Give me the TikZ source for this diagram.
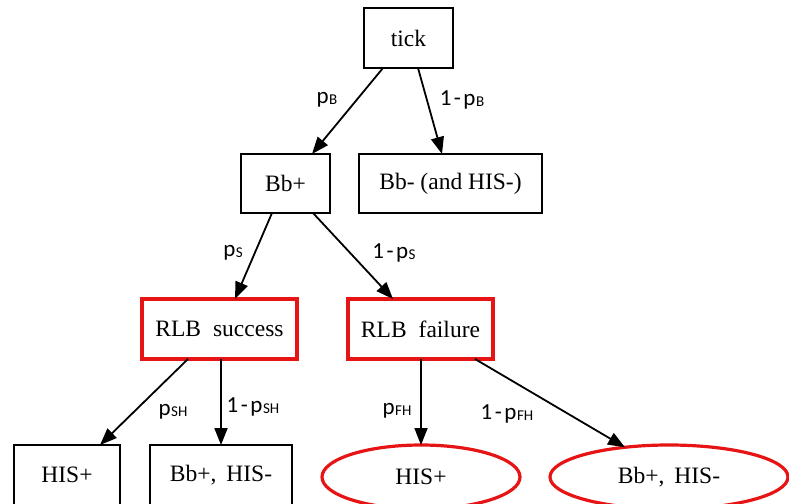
\documentclass[tikz,border=0pt]{standalone}
\usepackage{fontspec}
\setmainfont{Liberation Serif}
\newfontfamily\lblfont{Carlito}
\usetikzlibrary{arrows.meta,shapes.geometric,calc}
\definecolor{boxred}{RGB}{230,20,20}
\newcommand{\prob}[1]{p\kern0.5pt\raisebox{-1pt}{\fontsize{15}{15}\selectfont #1}}
\newcommand{\one}{1\kern2.5pt-\kern2.5pt}
\begin{document}
\begin{tikzpicture}[x=1pt,y=-1pt,
  every node/.style={inner sep=0pt,outer sep=0pt},
  blackbox/.style={draw=black,line width=1.8pt,minimum height=#1},
  blackbox/.default=60pt,
  redbox/.style={draw=boxred,line width=3.2pt,minimum height=60pt},
  redell/.style={draw=boxred,line width=3.2pt,ellipse},
  txt/.style={font=\fontsize{23.5}{25}\selectfont},
  lbl/.style={font=\lblfont\fontsize{23}{25}\selectfont},
  edge/.style={line width=1.8pt,-{Triangle[length=17pt,width=13pt]}}]
\useasboundingbox (0,0) rectangle (789,503);
\clip (0,0) rectangle (789,503);
% nodes
\node[blackbox=60pt,minimum width=89pt,txt] (tick) at (408.5,38) {tick};
\node[blackbox=59pt,minimum width=89pt,txt] (bbp) at (285.5,183.5) {Bb+};
\node[blackbox=59pt,minimum width=183pt,txt] (bbm) at (450.5,183.5) {Bb- (and HIS-)};
\node[redbox,minimum width=155pt,txt] (succ) at (219.5,329) {RLB\hspace{12pt}success};
\node[redbox,minimum width=145pt,txt] (fail) at (420.5,329) {RLB\hspace{12pt}failure};
\node[blackbox=60pt,minimum width=106pt,txt] (hisa) at (67,475) {HIS+};
\node[blackbox=60pt,minimum width=142pt,txt] (bha) at (221,475) {Bb+,\hspace{10pt}HIS-};
\node[redell,minimum width=198pt,minimum height=64pt,txt] (hisb) at (421,477) {HIS+};
\node[redell,minimum width=238pt,minimum height=64pt,txt] (bhb) at (669,477) {Bb+,\hspace{10pt}HIS-};
% connectors
\draw[edge] ([xshift=-25.5pt]tick.south) -- ([xshift=26.5pt]bbp.north);
\draw[edge] ([xshift=9.5pt]tick.south) -- ([xshift=-8.5pt]bbm.north);
\draw[edge] ([xshift=-13.5pt]bbp.south) -- ([xshift=15.5pt]succ.north);
\draw[edge] ([xshift=27.5pt]bbp.south) -- ([xshift=-27.5pt]fail.north);
\draw[edge] ([xshift=-31.5pt]succ.south) -- ([xshift=33pt]hisa.north);
\draw[edge] ([xshift=1.5pt]succ.south) -- (bha.north);
\draw[edge] ([xshift=0.5pt]fail.south) -- (hisb.north);
\draw[edge] ([xshift=54.5pt]fail.south) -- ($(bhb.center)+(-44,-29.7)$);
% labels
\node[lbl] (lpb) at (327,100) {\prob{B}};
\node[lbl] (lqb) at (462,100) {\one\prob{B}};
\node[lbl] (lps) at (233,253) {\prob{S}};
\node[lbl] (lqs) at (394,253) {\one\prob{S}};
\node[lbl] (lpsh) at (173,412) {\prob{SH}};
\node[lbl] (lqsh) at (253,407) {\one\prob{SH}};
\node[lbl] (lpfh) at (397,411) {\prob{FH}};
\node[lbl] (lqfh) at (507,414) {\one\prob{FH}};
\end{tikzpicture}
\end{document}
